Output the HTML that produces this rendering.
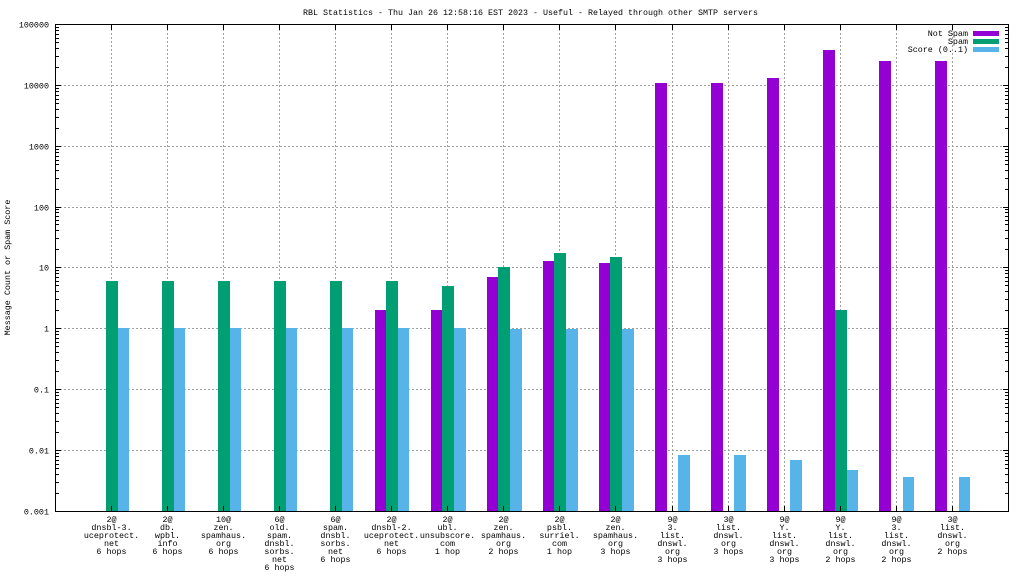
<!DOCTYPE html>
<html>
<head>
<meta charset="utf-8">
<style>
html,body{margin:0;padding:0;background:#fff;}
svg{display:block;}
text{font-family:"Liberation Mono","DejaVu Sans Mono",monospace;font-size:8.4px;fill:#000;}
</style>
</head>
<body>
<svg width="1024" height="576" viewBox="0 0 1024 576" xmlns="http://www.w3.org/2000/svg">
<rect x="0" y="0" width="1024" height="576" fill="#fff"/>
<defs>
<path id="minor" d="M0 -17.5h3M0 -28.5h3M0 -36.5h3M0 -42.5h3M0 -46.5h3M0 -50.5h3M0 -54.5h3M0 -57.5h3" stroke="#000" stroke-width="1" fill="none"/>
</defs>

<!-- grid -->
<g stroke="#a0a0a0" stroke-width="1" stroke-dasharray="2,2" fill="none" shape-rendering="crispEdges">
<path d="M56 85.5H1008M56 146.5H1008M56 207.5H1008M56 267.5H1008M56 328.5H1008M56 389.5H1008M56 450.5H1008"/>
<path d="M111.5 25V511M167.5 25V511M223.5 25V511M279.5 25V511M335.5 25V511M391.5 25V511M447.5 25V511M503.5 25V511M559.5 25V511M615.5 25V511M672.5 25V511M728.5 25V511M784.5 25V511M840.5 25V511M896.5 25V511M952.5 25V511"/>
</g>

<!-- bars -->
<g shape-rendering="crispEdges">
<!-- purple (Not Spam) -->
<g fill="#9400d3">
<rect x="375" y="310" width="11" height="201"/>
<rect x="431" y="310" width="11" height="201"/>
<rect x="487" y="277" width="11" height="234"/>
<rect x="543" y="261" width="11" height="250"/>
<rect x="599" y="263" width="11" height="248"/>
<rect x="655" y="83" width="12" height="428"/>
<rect x="711" y="83" width="12" height="428"/>
<rect x="767" y="78" width="12" height="433"/>
<rect x="823" y="50" width="12" height="461"/>
<rect x="879" y="61" width="12" height="450"/>
<rect x="935" y="61" width="12" height="450"/>
</g>
<!-- green (Spam) -->
<g fill="#009e73">
<rect x="106" y="281" width="12" height="230"/>
<rect x="162" y="281" width="12" height="230"/>
<rect x="218" y="281" width="12" height="230"/>
<rect x="274" y="281" width="12" height="230"/>
<rect x="330" y="281" width="12" height="230"/>
<rect x="386" y="281" width="12" height="230"/>
<rect x="442" y="286" width="12" height="225"/>
<rect x="498" y="267" width="12" height="244"/>
<rect x="554" y="253" width="12" height="258"/>
<rect x="610" y="257" width="12" height="254"/>
<rect x="835" y="310" width="12" height="201"/>
</g>
<!-- blue (Score) -->
<g fill="#56b4e9">
<rect x="118" y="328" width="11" height="183"/>
<rect x="174" y="328" width="11" height="183"/>
<rect x="230" y="328" width="11" height="183"/>
<rect x="286" y="328" width="11" height="183"/>
<rect x="342" y="328" width="11" height="183"/>
<rect x="398" y="328" width="11" height="183"/>
<rect x="454" y="328" width="12" height="183"/>
<rect x="510" y="329" width="12" height="182"/>
<rect x="566" y="329" width="12" height="182"/>
<rect x="622" y="329" width="12" height="182"/>
<rect x="678" y="455" width="12" height="56"/>
<rect x="734" y="455" width="12" height="56"/>
<rect x="790" y="460" width="12" height="51"/>
<rect x="847" y="470" width="11" height="41"/>
<rect x="903" y="477" width="11" height="34"/>
<rect x="959" y="477" width="11" height="34"/>
</g>
</g>

<!-- border & ticks -->
<g stroke="#000" stroke-width="1" fill="none" shape-rendering="crispEdges">
<rect x="55.5" y="24.5" width="953" height="487"/>
<path d="M56 85.5h5M56 146.5h5M56 207.5h5M56 267.5h5M56 328.5h5M56 389.5h5M56 450.5h5"/>
<path d="M1008 85.5h-5M1008 146.5h-5M1008 207.5h-5M1008 267.5h-5M1008 328.5h-5M1008 389.5h-5M1008 450.5h-5"/>
<path d="M111.5 511v-5M167.5 511v-5M223.5 511v-5M279.5 511v-5M335.5 511v-5M391.5 511v-5M447.5 511v-5M503.5 511v-5M559.5 511v-5M615.5 511v-5M672.5 511v-5M728.5 511v-5M784.5 511v-5M840.5 511v-5M896.5 511v-5M952.5 511v-5"/>
<path d="M111.5 25v5M167.5 25v5M223.5 25v5M279.5 25v5M335.5 25v5M391.5 25v5M447.5 25v5M503.5 25v5M559.5 25v5M615.5 25v5M672.5 25v5M728.5 25v5M784.5 25v5M840.5 25v5M896.5 25v5M952.5 25v5"/>
</g>
<g shape-rendering="crispEdges">
<use href="#minor" transform="translate(56,511)"/>
<use href="#minor" transform="translate(56,450)"/>
<use href="#minor" transform="translate(56,389)"/>
<use href="#minor" transform="translate(56,328)"/>
<use href="#minor" transform="translate(56,267)"/>
<use href="#minor" transform="translate(56,207)"/>
<use href="#minor" transform="translate(56,146)"/>
<use href="#minor" transform="translate(56,85)"/>
<use href="#minor" transform="translate(1008,511) scale(-1,1)"/>
<use href="#minor" transform="translate(1008,450) scale(-1,1)"/>
<use href="#minor" transform="translate(1008,389) scale(-1,1)"/>
<use href="#minor" transform="translate(1008,328) scale(-1,1)"/>
<use href="#minor" transform="translate(1008,267) scale(-1,1)"/>
<use href="#minor" transform="translate(1008,207) scale(-1,1)"/>
<use href="#minor" transform="translate(1008,146) scale(-1,1)"/>
<use href="#minor" transform="translate(1008,85) scale(-1,1)"/>
</g>

<!-- title -->
<text x="303" y="15" textLength="455" lengthAdjust="spacingAndGlyphs">RBL Statistics - Thu Jan 26 12:58:16 EST 2023 - Useful - Relayed through other SMTP servers</text>

<!-- y tick labels -->
<g text-anchor="end">
<text x="49" y="27.5">100000</text>
<text x="49" y="88.5">10000</text>
<text x="49" y="149.5">1000</text>
<text x="49" y="210.5">100</text>
<text x="49" y="270.5">10</text>
<text x="49" y="331.5">1</text>
<text x="49" y="392.5">0.1</text>
<text x="49" y="453.5">0.01</text>
<text x="49" y="514.5">0.001</text>
</g>

<!-- y axis label -->
<text x="10" y="267.5" text-anchor="middle" transform="rotate(-90 10 267.5)">Message Count or Spam Score</text>

<!-- legend -->
<g text-anchor="end">
<text x="968" y="36">Not Spam</text>
<text x="968" y="44">Spam</text>
<text x="968" y="52">Score (0..1)</text>
</g>
<g shape-rendering="crispEdges">
<rect x="973" y="31" width="26" height="5" fill="#9400d3"/>
<rect x="973" y="39" width="26" height="5" fill="#009e73"/>
<rect x="973" y="47" width="26" height="5" fill="#56b4e9"/>
</g>

<!-- x labels -->
<g text-anchor="middle">
<text x="111.5" y="522">2@</text><text x="111.5" y="530">dnsbl-3.</text><text x="111.5" y="538">uceprotect.</text><text x="111.5" y="546">net</text><text x="111.5" y="554">6 hops</text>
<text x="167.5" y="522">2@</text><text x="167.5" y="530">db.</text><text x="167.5" y="538">wpbl.</text><text x="167.5" y="546">info</text><text x="167.5" y="554">6 hops</text>
<text x="223.5" y="522">10@</text><text x="223.5" y="530">zen.</text><text x="223.5" y="538">spamhaus.</text><text x="223.5" y="546">org</text><text x="223.5" y="554">6 hops</text>
<text x="279.5" y="522">6@</text><text x="279.5" y="530">old.</text><text x="279.5" y="538">spam.</text><text x="279.5" y="546">dnsbl.</text><text x="279.5" y="554">sorbs.</text><text x="279.5" y="562">net</text><text x="279.5" y="570">6 hops</text>
<text x="335.5" y="522">6@</text><text x="335.5" y="530">spam.</text><text x="335.5" y="538">dnsbl.</text><text x="335.5" y="546">sorbs.</text><text x="335.5" y="554">net</text><text x="335.5" y="562">6 hops</text>
<text x="391.5" y="522">2@</text><text x="391.5" y="530">dnsbl-2.</text><text x="391.5" y="538">uceprotect.</text><text x="391.5" y="546">net</text><text x="391.5" y="554">6 hops</text>
<text x="447.5" y="522">2@</text><text x="447.5" y="530">ubl.</text><text x="447.5" y="538">unsubscore.</text><text x="447.5" y="546">com</text><text x="447.5" y="554">1 hop</text>
<text x="503.5" y="522">2@</text><text x="503.5" y="530">zen.</text><text x="503.5" y="538">spamhaus.</text><text x="503.5" y="546">org</text><text x="503.5" y="554">2 hops</text>
<text x="559.5" y="522">2@</text><text x="559.5" y="530">psbl.</text><text x="559.5" y="538">surriel.</text><text x="559.5" y="546">com</text><text x="559.5" y="554">1 hop</text>
<text x="615.5" y="522">2@</text><text x="615.5" y="530">zen.</text><text x="615.5" y="538">spamhaus.</text><text x="615.5" y="546">org</text><text x="615.5" y="554">3 hops</text>
<text x="672.5" y="522">9@</text><text x="672.5" y="530">3.</text><text x="672.5" y="538">list.</text><text x="672.5" y="546">dnswl.</text><text x="672.5" y="554">org</text><text x="672.5" y="562">3 hops</text>
<text x="728.5" y="522">3@</text><text x="728.5" y="530">list.</text><text x="728.5" y="538">dnswl.</text><text x="728.5" y="546">org</text><text x="728.5" y="554">3 hops</text>
<text x="784.5" y="522">9@</text><text x="784.5" y="530">Y.</text><text x="784.5" y="538">list.</text><text x="784.5" y="546">dnswl.</text><text x="784.5" y="554">org</text><text x="784.5" y="562">3 hops</text>
<text x="840.5" y="522">9@</text><text x="840.5" y="530">Y.</text><text x="840.5" y="538">list.</text><text x="840.5" y="546">dnswl.</text><text x="840.5" y="554">org</text><text x="840.5" y="562">2 hops</text>
<text x="896.5" y="522">9@</text><text x="896.5" y="530">3.</text><text x="896.5" y="538">list.</text><text x="896.5" y="546">dnswl.</text><text x="896.5" y="554">org</text><text x="896.5" y="562">2 hops</text>
<text x="952.5" y="522">3@</text><text x="952.5" y="530">list.</text><text x="952.5" y="538">dnswl.</text><text x="952.5" y="546">org</text><text x="952.5" y="554">2 hops</text>
</g>
</svg>
</body>
</html>
